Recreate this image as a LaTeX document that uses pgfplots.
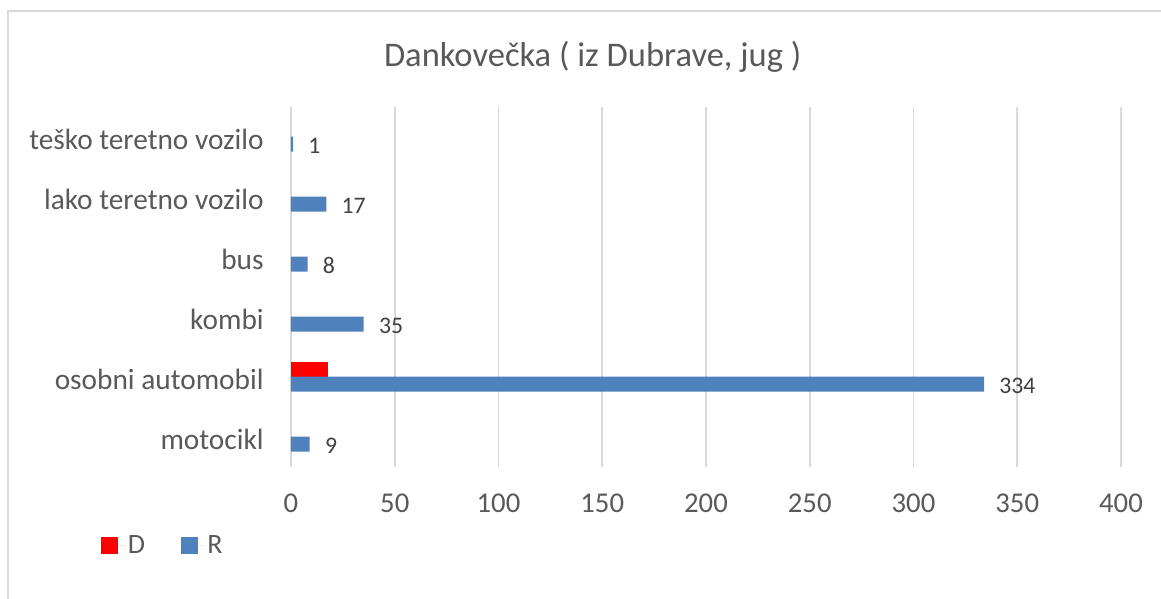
\documentclass[border=0pt]{standalone}
\usepackage{pgfplots}
\pgfplotsset{compat=1.18}
\usepackage{fontspec}
\setmainfont{Carlito}
\definecolor{txt}{HTML}{595959}
\definecolor{lbl}{HTML}{404040}
\definecolor{gridc}{HTML}{D9D9D9}
\definecolor{rblue}{HTML}{4F81BD}
\definecolor{dred}{HTML}{FF0000}
\begin{document}
\begin{tikzpicture}
\path[use as bounding box] (0,0) rectangle (870.75pt,-449.25pt);
\draw[gridc, line width=1.2pt] (6pt,-470pt) -- (6pt,-8.25pt) -- (890pt,-8.25pt);
\node[txt, font=\fontsize{25.9}{31}\selectfont] at (444.5pt,-42.75pt) {Dankovečka ( iz Dubrave, jug )};
\begin{axis}[
  at={(218.25pt,-350.0pt)}, anchor=south west,
  scale only axis, width=622.5pt, height=270pt,
  xbar, bar width=11.25pt,
  xmin=0, xmax=400, ymin=-0.5, ymax=5.5,
  xtick={0,50,...,400},
  ytick={0,1,2,3,4,5},
  yticklabels={motocikl, osobni automobil, kombi, bus, lako teretno vozilo, teško teretno vozilo},
  axis line style={draw=none},
  major tick length=0pt,
  xmajorgrids, grid style={gridc, line width=1.2pt},
  tick label style={txt, font=\fontsize{21.7}{26}\selectfont},
  xticklabel style={font=\fontsize{21.5}{26}\selectfont, yshift=-17pt},
  /pgf/number format/assume math mode=true,
  yticklabel style={xshift=-17pt, yshift=-2pt, font=\fontsize{22}{26}\selectfont},
  legend columns=2,
  legend style={at={(-0.229,-0.22)}, anchor=west, draw=none, inner sep=0pt,
    font=\fontsize{21}{25}\selectfont, text=txt,
    /tikz/every even column/.append style={column sep=24.75pt}},
  legend image code/.code={\fill[#1] (0pt,-6.375pt) rectangle (12.75pt,6.375pt); \path (0pt,0pt) -- (18pt,0pt);},
]
\addplot[fill=dred, draw=none, bar shift=5.625pt] coordinates {(18,1)};
\addlegendentry{D}
\addplot[fill=rblue, draw=none, bar shift=-5.625pt,
  nodes near coords, nodes near coords style={lbl, anchor=west, xshift=8pt, yshift=-1pt, font=\fontsize{17.8}{21}\selectfont}]
  coordinates {(9,0) (334,1) (35,2) (8,3) (17,4) (1,5)};
\addlegendentry{R}
\end{axis}
\end{tikzpicture}
\end{document}
